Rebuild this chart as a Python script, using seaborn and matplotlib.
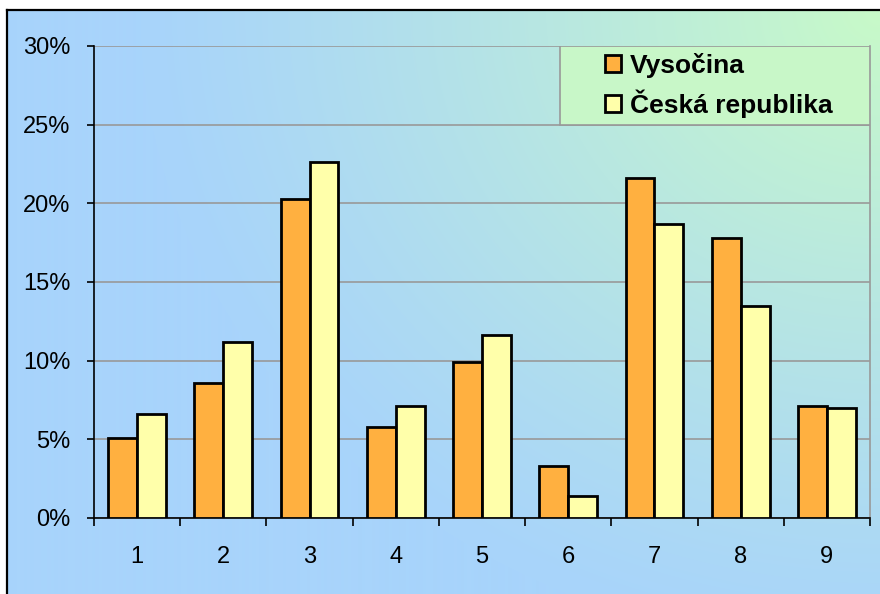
import seaborn as sns
import matplotlib.pyplot as plt
import matplotlib.ticker as mticker
from matplotlib.patches import Rectangle
import numpy as np
import pandas as pd

categories = ["1", "2", "3", "4", "5", "6", "7", "8", "9"]
vysocina = [5.1, 8.6, 20.3, 5.8, 9.9, 3.3, 21.6, 17.8, 7.1]
cr = [6.6, 11.2, 22.6, 7.1, 11.6, 1.4, 18.7, 13.5, 7.0]
series_names = ["Vysočina", "Česká republika"]

df = pd.DataFrame({
    "cat": categories * 2,
    "value": [v / 100 for v in vysocina] + [v / 100 for v in cr],
    "series": [series_names[0]] * 9 + [series_names[1]] * 9,
})

sns.set_style("white")
plt.rcParams["font.family"] = ["Liberation Sans", "DejaVu Sans"]
plt.rcParams["text.color"] = "black"
plt.rcParams["xtick.color"] = "black"
plt.rcParams["ytick.color"] = "black"

fig = plt.figure(figsize=(8.8, 5.94), dpi=100)

# background with radial gradient from top-right corner
bg = fig.add_axes([7 / 880, 0, 1 - 7 / 880, 584 / 594])
h, w = 584, 873
yy, xx = np.mgrid[0:h, 0:w]
d = np.sqrt((xx - w) ** 2 + (yy * 1.15) ** 2)
t = np.clip(1 - d / 740, 0, 1) ** 1.15
blue = np.array([168, 212, 251]) / 255
green = np.array([200, 250, 200]) / 255
img = blue[None, None, :] * (1 - t[..., None]) + green[None, None, :] * t[..., None]
bg.imshow(img, aspect="auto", extent=[0, 1, 0, 1], origin="upper")
bg.set_xticks([])
bg.set_yticks([])
for s in ["right", "bottom"]:
    bg.spines[s].set_visible(False)
for s in ["top", "left"]:
    bg.spines[s].set_color("black")
    bg.spines[s].set_linewidth(1.6)

ax = fig.add_axes([94 / 880, 76 / 594, 776 / 880, 472 / 594])
ax.patch.set_alpha(0)

sns.barplot(data=df, x="cat", y="value", hue="series", ax=ax,
            palette=["#ffb040", "#ffffaa"], saturation=1, width=0.67,
            edgecolor="black", linewidth=2.0, zorder=3)

ax.set_ylim(0, 0.30)
ax.set_xlim(-0.5, 8.5)
ax.yaxis.set_major_locator(mticker.MultipleLocator(0.05))
ax.yaxis.set_major_formatter(mticker.PercentFormatter(1.0, decimals=0))
ax.grid(axis="y", color="#999999", linewidth=1.2, zorder=0)
ax.set_axisbelow(True)
ax.set_xlabel("")
ax.set_ylabel("")

ax.xaxis.set_minor_locator(mticker.FixedLocator(np.arange(-0.5, 9.0, 1.0)))
ax.tick_params(axis="x", which="major", length=0, pad=20, labelsize=17,
               labelcolor="black")
ax.tick_params(axis="x", which="minor", length=6, width=1.2, color="black",
               direction="out", bottom=True)
ax.tick_params(axis="y", length=5, width=1.2, color="black", direction="out",
               left=True, pad=12, labelsize=17, labelcolor="black")

ax.spines["left"].set_color("black")
ax.spines["bottom"].set_color("black")
ax.spines["left"].set_linewidth(1.2)
ax.spines["bottom"].set_linewidth(1.2)
ax.spines["right"].set_color("#999999")
ax.spines["right"].set_linewidth(1.2)
ax.spines["top"].set_visible(False)

# legend box
ax.add_patch(Rectangle((0.6005, 0.8326), 0.3995, 0.1674, transform=ax.transAxes,
                       facecolor="#c8f7c8", edgecolor="#999999", linewidth=1.2,
                       zorder=4))
handles, labels = ax.get_legend_handles_labels()
leg = ax.legend(handles, labels, loc="upper left", bbox_to_anchor=(0.6585, 0.985),
                frameon=False, borderpad=0, borderaxespad=0,
                handlelength=0.6, handleheight=0.6, handletextpad=0.33,
                labelspacing=0.42, prop={"weight": "bold", "size": 19})
leg.set_zorder(5)
for txt in leg.get_texts():
    txt.set_color("black")

fig.savefig("out.png", dpi=100)
